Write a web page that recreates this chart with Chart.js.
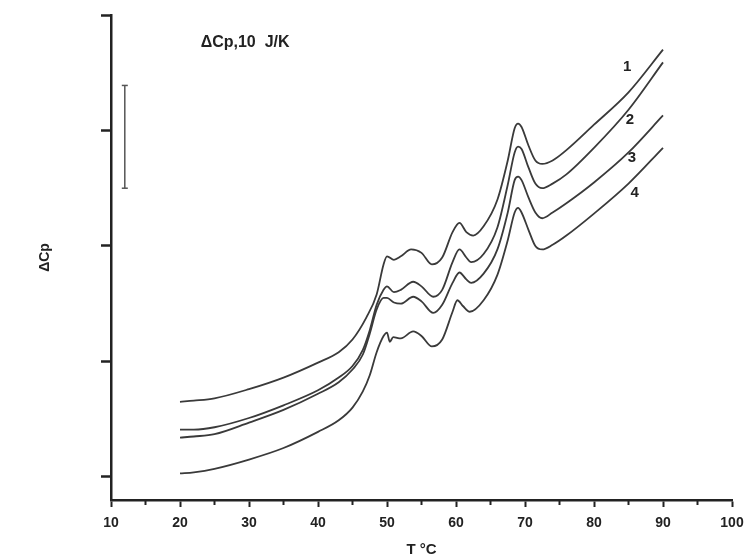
<!DOCTYPE html>
<html>
<head>
<meta charset="utf-8">
<script src="https://cdn.jsdelivr.net/npm/chart.js@4.4.0/dist/chart.umd.min.js"></script>
<style>
  html, body { margin: 0; padding: 0; background: #fff; }
</style>
</head>
<body>
<canvas id="dsc" width="746" height="559"></canvas>
<script>
// ── Data: DSC traces, temperature in °C, ΔCp in offset units ─────────────
const temp1 = [20, 22, 25, 30, 35, 40, 43, 45, 47, 48.5, 49.5, 50, 51, 52, 53.5, 55, 56.5, 58, 59.5, 60.5,
               61.5, 62.5, 64, 66, 67.5, 68.5, 69, 69.5, 70.5, 71.5, 72.5, 74, 76, 80, 85, 90];
const cp1   = [0.65, 0.66, 0.68, 0.76, 0.86, 0.99, 1.08, 1.19, 1.38, 1.58, 1.84, 1.91, 1.88, 1.91, 1.97, 1.94, 1.84, 1.90, 2.12, 2.20,
               2.12, 2.09, 2.17, 2.40, 2.74, 3.02, 3.06, 3.03, 2.87, 2.74, 2.71, 2.74, 2.83, 3.05, 3.33, 3.70];

const temp23 = [20, 22, 25, 30, 35, 40, 43, 45, 46.5, 47.5, 48.5, 49.5, 50, 51, 52, 53.8, 55, 56.7, 58, 59.5,
                60.5, 61.5, 62.2, 64, 66, 67.5, 68.5, 69, 69.5, 70.5, 71.5, 72.5, 74, 76, 80, 85, 90];
const cp2   = [0.41, 0.41, 0.43, 0.51, 0.62, 0.75, 0.86, 0.96, 1.10, 1.27, 1.49, 1.62, 1.65, 1.60, 1.62, 1.69, 1.65, 1.56, 1.62, 1.86,
               1.97, 1.90, 1.86, 1.93, 2.16, 2.53, 2.81, 2.86, 2.84, 2.68, 2.54, 2.50, 2.54, 2.62, 2.85, 3.18, 3.59];
const cp3   = [0.34, 0.35, 0.37, 0.47, 0.58, 0.72, 0.82, 0.93, 1.06, 1.24, 1.45, 1.55, 1.55, 1.51, 1.50, 1.56, 1.52, 1.42, 1.49, 1.68,
               1.77, 1.71, 1.68, 1.76, 1.97, 2.29, 2.57, 2.60, 2.57, 2.42, 2.29, 2.24, 2.29, 2.37, 2.55, 2.81, 3.13];

const temp4 = [20, 22, 25, 30, 35, 40, 43, 45, 46.5, 47.5, 48.5, 49.5, 50, 50.4, 50.9, 52, 53.8, 55, 56.5, 58,
               59.5, 60.2, 61, 62, 64, 66, 67.5, 68.5, 69, 69.5, 70.5, 71.5, 72.5, 74, 76, 80, 85, 90];
const cp4   = [0.03, 0.04, 0.07, 0.15, 0.25, 0.39, 0.49, 0.60, 0.74, 0.88, 1.08, 1.22, 1.25, 1.17, 1.21, 1.20, 1.26, 1.22, 1.13, 1.19,
               1.43, 1.53, 1.48, 1.43, 1.53, 1.75, 2.05, 2.29, 2.33, 2.29, 2.14, 2.00, 1.97, 2.01, 2.09, 2.28, 2.54, 2.85];

// scale bar (10 J/K) and its caption
const barX = [12, 12];
const barY = [2.50, 3.39];
const barText = 'ΔCp,10  J/K';
const barTextAt = [23, 3.76];

// curve numbers placed next to the right-hand ends
const curveLabels = ['1', '2', '3', '4'];
const labelX = [84.8, 85.2, 85.5, 85.9];
const labelY = [3.55, 3.09, 2.76, 2.46];

const xMajorTicks = [10, 20, 30, 40, 50, 60, 70, 80, 90, 100];
const xMinorTicks = [15, 25, 35, 45, 55, 65, 75, 85, 95];
const yTicks = [0, 1, 2, 3, 4];

const INK = '#222';
const FONT = '"Liberation Sans", Arial, sans-serif';

function pts(xs, ys) {
  return xs.map((x, i) => ({ x, y: ys[i] }));
}

function trace(xs, ys) {
  return {
    data: pts(xs, ys),
    borderColor: '#3a3a3a',
    borderWidth: 1.8,
    pointRadius: 0,
    cubicInterpolationMode: 'monotone',
    fill: false,
  };
}

// Minor x ticks, caption and curve numbers
const annotate = {
  id: 'annotate',
  afterDraw(chart) {
    const { ctx, scales: { x, y } } = chart;
    ctx.save();
    ctx.strokeStyle = INK;
    ctx.lineWidth = 2;
    xMinorTicks.forEach(v => {
      const px = x.getPixelForValue(v);
      ctx.beginPath();
      ctx.moveTo(px, x.top);
      ctx.lineTo(px, x.top + 5);
      ctx.stroke();
    });

    ctx.fillStyle = INK;
    ctx.font = 'bold 16px ' + FONT;
    ctx.textBaseline = 'middle';
    ctx.textAlign = 'left';
    ctx.fillText(barText, x.getPixelForValue(barTextAt[0]), y.getPixelForValue(barTextAt[1]));

    ctx.textAlign = 'center';
    ctx.font = 'bold 15px ' + FONT;
    curveLabels.forEach((t, i) => {
      ctx.fillText(t, x.getPixelForValue(labelX[i]), y.getPixelForValue(labelY[i]));
    });
    ctx.restore();
  }
};

new Chart(document.getElementById('dsc'), {
  type: 'line',
  data: {
    datasets: [
      trace(temp1, cp1),
      trace(temp23, cp2),
      trace(temp23, cp3),
      trace(temp4, cp4),
      {
        data: pts(barX, barY),
        borderColor: '#555',
        borderWidth: 1.5,
        pointStyle: 'line',
        pointRadius: 3,
        pointBorderWidth: 1.5,
        pointBorderColor: '#555',
      },
    ],
  },
  options: {
    responsive: false,
    animation: false,
    layout: { padding: { left: 30, right: 14, top: 15, bottom: 0 } },
    plugins: { legend: { display: false }, tooltip: { enabled: false } },
    scales: {
      x: {
        type: 'linear',
        min: 10, max: 100,
        afterBuildTicks: s => { s.ticks = xMajorTicks.map(v => ({ value: v })); },
        afterFit: s => { s.height = 59; s.paddingLeft = 0; s.paddingRight = 0; },
        border: { color: INK, width: 2.5 },
        grid: { drawOnChartArea: false, tickLength: 7, tickWidth: 2, tickColor: INK },
        ticks: { color: INK, padding: 8, font: { family: FONT, size: 14, weight: 'bold' } },
        title: {
          display: true, text: 'T °C', color: INK,
          font: { family: FONT, size: 15, weight: 'bold' },
          padding: { top: 0, bottom: 0 },
        },
      },
      y: {
        type: 'linear',
        min: -0.2, max: 4.0,
        afterBuildTicks: s => { s.ticks = yTicks.map(v => ({ value: v })); },
        afterFit: s => { s.width = 81; },
        border: { color: INK, width: 2.5 },
        grid: { drawOnChartArea: false, tickLength: 10, tickWidth: 2.5, tickColor: INK },
        ticks: { display: false },
        title: {
          display: true, text: 'ΔCp', color: INK,
          font: { family: FONT, size: 14, weight: 'bold' },
          padding: { top: 7, bottom: 47 },
        },
      },
    },
  },
  plugins: [annotate],
});
</script>
</body>
</html>
